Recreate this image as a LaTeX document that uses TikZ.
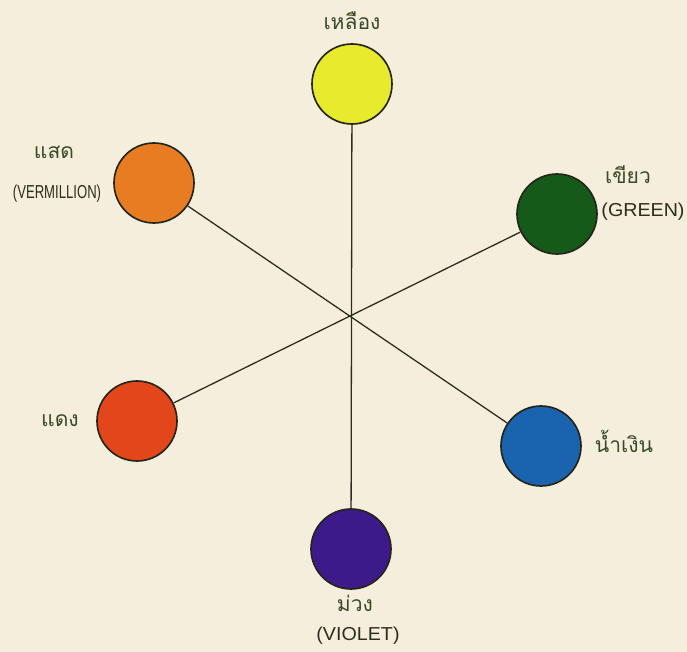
\documentclass[tikz,border=0pt]{standalone}
\usepackage{fontspec}
\setmainfont{Liberation Sans}
\newfontfamily\thaifont[Script=Thai]{Loma}
\definecolor{paper}{RGB}{245,238,220}
\definecolor{ink}{RGB}{45,45,30}
\definecolor{thaiink}{RGB}{55,75,40}
\definecolor{cyellow}{RGB}{230,236,45}
\definecolor{corange}{RGB}{232,124,34}
\definecolor{cgreen}{RGB}{22,90,26}
\definecolor{cred}{RGB}{228,70,28}
\definecolor{cblue}{RGB}{26,99,174}
\definecolor{cviolet}{RGB}{60,26,138}
\tikzset{
  dot/.style={circle,draw=ink!80!black,line width=1.4pt,minimum size=2.4cm,inner sep=0pt},
  thai/.style={text=thaiink,font=\thaifont\fontsize{18}{18}\selectfont},
  eng/.style={text=ink,font=\fontsize{16}{16}\selectfont},
  spoke/.style={draw=ink,line width=1.1pt}
}
\newcommand{\englabel}[2][1]{\scalebox{#1}[1]{#2}}
\begin{document}
\begin{tikzpicture}[x=0.03cm,y=-0.03cm]
    \fill[paper] (0,0) rectangle (687,652);
    \useasboundingbox (0,0) rectangle (687,652);
    % colour circles
    \node[dot,fill=cyellow] at (352,84) (yellow) {};
    \node[dot,fill=corange] at (154,183) (orange) {};
    \node[dot,fill=cgreen] at (557,214) (green) {};
    \node[dot,fill=cred] at (137,421) (red) {};
    \node[dot,fill=cblue] at (541,446) (blue) {};
    \node[dot,fill=cviolet] at (351,549) (violet) {};
    % spokes between opposite colours
    \draw[spoke] (yellow) -- (violet);
    \draw[spoke] (orange) -- (blue);
    \draw[spoke] (green) -- (red);
    % labels
    \node[thai] at (352,21) (yellowth) {เหลือง};
    \node[thai] at (54,152) (orangeth) {แสด};
    \node[eng] at (57,194) (orangeen) {\englabel[0.7]{(VERMILLION)}};
    \node[thai] at (628,175) (greenth) {เขียว};
    \node[eng] at (643,212) (greenen) {\englabel[1.05]{(GREEN)}};
    \node[thai] at (60,421) (redth) {แดง};
    \node[thai] at (624,441) (blueth) {น้ำเงิน};
    \node[thai] at (355,603) (violetth) {ม่วง};
    \node[eng] at (358,636) (violeten) {\englabel[1.05]{(VIOLET)}};
\end{tikzpicture}
\end{document}
